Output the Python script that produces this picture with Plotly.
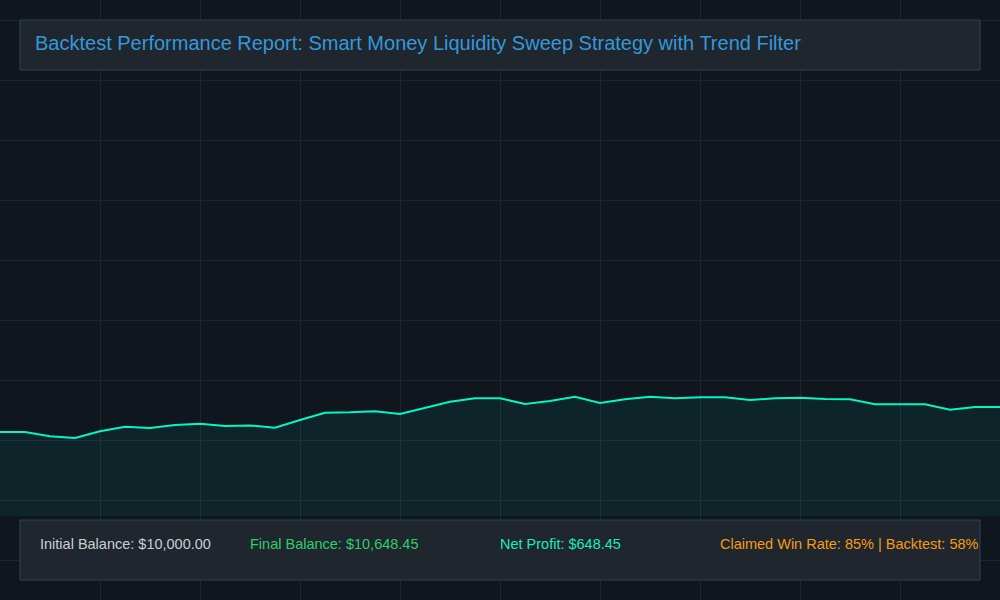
import plotly.graph_objects as go

# equity curve, one point per trade
trade_no = list(range(41))
balance = [10000, 10000, 9888, 9844, 10018, 10137, 10104, 10182, 10215, 10156,
           10169, 10112, 10311, 10501, 10511, 10537, 10467, 10630, 10786, 10874,
           10874, 10726, 10804, 10916, 10752, 10848, 10916, 10874, 10900, 10900,
           10830, 10874, 10890, 10856, 10848, 10719, 10719, 10719, 10578, 10648,
           10648.45]

title_text = "Backtest Performance Report: Smart Money Liquidity Sweep Strategy with Trend Filter"
stat_labels = ["Initial Balance: $10,000.00", "Final Balance: $10,648.45",
               "Net Profit: $648.45", "Claimed Win Rate: 85% | Backtest: 58%"]
stat_colors = ["#c9ced4", "#2ecc71", "#1de9b6", "#f39c12"]
stat_x = [0.038, 0.248, 0.498, 0.718]

BG = "#0f161d"
GRID = "#1b2630"
LINE = "#05f5c5"

fig = go.Figure()

# empty trace so the background grid subplot gets drawn
fig.add_trace(go.Scatter(x=[], y=[], xaxis="x", yaxis="y", showlegend=False, hoverinfo="skip"))

fig.add_trace(go.Scatter(
    x=trade_no, y=balance, xaxis="x2", yaxis="y2",
    mode="lines", line=dict(color=LINE, width=2),
    fill="tozeroy", fillcolor="rgba(0,242,195,0.07)",
    showlegend=False, name="Balance"))

fig.update_layout(
    width=1000, height=600,
    margin=dict(l=0, r=0, t=0, b=0),
    paper_bgcolor=BG, plot_bgcolor="rgba(0,0,0,0)",
    font=dict(family="Liberation Sans, Arial, sans-serif"),
    xaxis=dict(domain=[0, 1], range=[0, 10], dtick=1, showgrid=True, gridcolor=GRID,
               gridwidth=1, zeroline=False, showticklabels=False, fixedrange=True),
    yaxis=dict(domain=[0, 1], range=[0, 10], tick0=2/3, dtick=1, showgrid=True,
               gridcolor=GRID, gridwidth=1, zeroline=False, showticklabels=False, fixedrange=True),
    xaxis2=dict(domain=[0, 1], range=[0, 40], anchor="y2", showgrid=False,
                zeroline=False, showticklabels=False),
    yaxis2=dict(domain=[0.14, 1], range=[7821, 21206], anchor="x2", showgrid=False,
                zeroline=False, showticklabels=False),
)

# title and stats panels
fig.add_shape(type="rect", xref="paper", yref="paper", x0=0.02, x1=0.98, y0=0.8833, y1=0.9667,
              fillcolor="#1f262e", line=dict(color="#2e4358", width=1), layer="above")
fig.add_shape(type="rect", xref="paper", yref="paper", x0=0.02, x1=0.98, y0=0.0333, y1=0.1333,
              fillcolor="#1f262e", line=dict(color="#2e4358", width=1), layer="above")

fig.add_annotation(text=title_text, xref="paper", yref="paper", x=0.033, y=0.9283,
                   xanchor="left", yanchor="middle", showarrow=False,
                   font=dict(size=20, color="#3498db"))

for lbl, clr, xx in zip(stat_labels, stat_colors, stat_x):
    fig.add_annotation(text=lbl, xref="paper", yref="paper", x=xx, y=0.0933,
                       xanchor="left", yanchor="middle", showarrow=False,
                       font=dict(size=14.5, color=clr))

# drop the page's default body margin so the figure sits at 0,0
fig.write_html("out.html", config={"displayModeBar": False},
               post_script="document.body.style.margin='0';")
